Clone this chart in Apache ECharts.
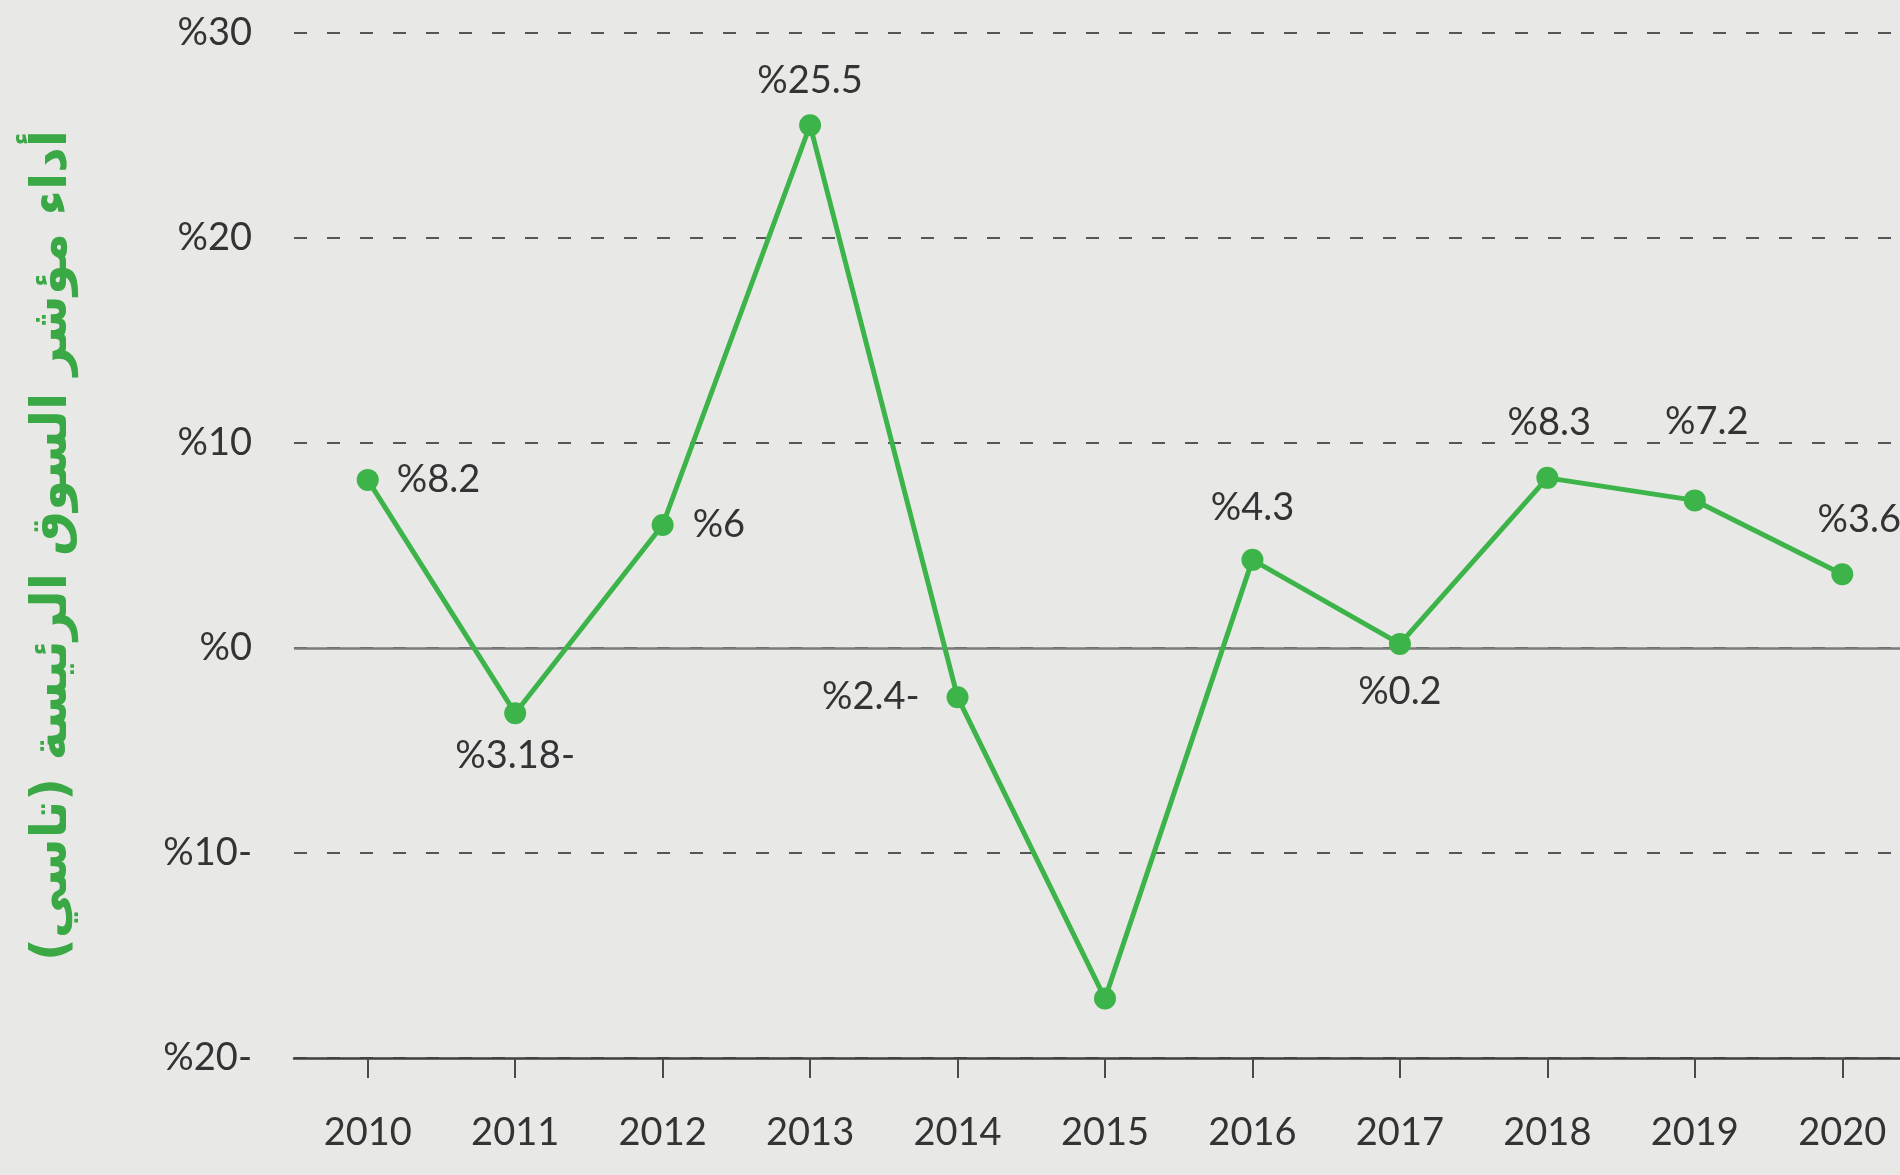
<!DOCTYPE html>
<html>
<head>
<meta charset="utf-8">
<script src="https://cdn.jsdelivr.net/npm/echarts@6/dist/echarts.min.js"></script>
<style>
html,body{margin:0;padding:0;background:#e8e8e6;}
#c{width:1900px;height:1175px;}
</style>
</head>
<body>
<div id="c"></div>
<script>
const years = ['2010','2011','2012','2013','2014','2015','2016','2017','2018','2019','2020'];
const tasiReturn = [8.2, -3.18, 6, 25.5, -2.4, -17.1, 4.3, 0.2, 8.3, 7.2, 3.6];
const showLabel = [true, true, true, true, true, false, true, true, true, true, true];
const yTicks = [-20, -10, 0, 10, 20, 30];
const yAxisTitle = 'أداء مؤشر السوق الرئيسة (تاسي)';

// label placement (style, not data)
const labelPlace = [
  {position:'right', distance:18, offset:[0,0]},
  {position:'bottom', distance:13, offset:[0,0]},
  {position:'right', distance:19, offset:[0,0]},
  {position:'top', distance:15, offset:[0,0]},
  {position:'left', distance:27, offset:[0,0]},
  {position:'top', distance:10, offset:[0,0]},
  {position:'top', distance:22, offset:[0,0]},
  {position:'bottom', distance:18, offset:[0,0]},
  {position:'top', distance:25, offset:[2,0]},
  {position:'top', distance:49, offset:[12,0]},
  {position:'top', distance:24, offset:[17,0]}
];

function pct(v){ return v < 0 ? '%' + (-v) + '-' : '%' + v; }

const FONT = 'Lato';
const green = '#3db449';

const seriesData = tasiReturn.map((v,i)=>({
  value: v,
  label: {
    show: showLabel[i],
    position: labelPlace[i].position,
    distance: labelPlace[i].distance,
    offset: labelPlace[i].offset
  }
}));

const chart = echarts.init(document.getElementById('c'), null, {renderer:'canvas'});
chart.setOption({
  backgroundColor: '#e8e8e6',
  animation: false,
  grid: {left: 294, width: 1622, top: 33, bottom: 117, containLabel: false, outerBoundsMode: 'none'},
  xAxis: {
    type: 'category',
    data: years,
    boundaryGap: true,
    axisLine: {show: true, onZero: false, lineStyle: {color: '#3f3f3f', width: 2.5}},
    axisTick: {show: true, alignWithLabel: true, length: 20, lineStyle: {color: '#4a4a4a', width: 2}},
    axisLabel: {color: '#333', fontFamily: FONT, fontSize: 38, margin: 56}
  },
  yAxis: {
    type: 'value',
    min: yTicks[0],
    max: yTicks[yTicks.length-1],
    interval: 10,
    name: yAxisTitle,
    nameLocation: 'middle',
    nameRotate: 90,
    nameGap: 216,
    nameTextStyle: {color: '#3aa845', fontFamily: 'DejaVu Sans', fontSize: 50, fontWeight: 'bold'},
    axisLine: {show: false},
    axisTick: {show: false},
    axisLabel: {color: '#333', fontFamily: FONT, fontSize: 38, margin: 42, formatter: pct},
    splitLine: {show: true, lineStyle: {color: '#555', width: 2, type: [13, 20]}}
  },
  series: [{
    type: 'line',
    data: seriesData,
    symbol: 'circle',
    symbolSize: 22,
    lineStyle: {color: green, width: 5},
    itemStyle: {color: green},
    z: 5,
    label: {
      show: true,
      color: '#333',
      fontFamily: FONT,
      fontSize: 38,
      formatter: p => pct(p.value)
    },
    markLine: {
      silent: true,
      symbol: 'none',
      label: {show: false},
      lineStyle: {color: '#7a7a7a', width: 2.5, type: 'solid'},
      data: [{yAxis: 0}],
      z: 1
    }
  }]
});
</script>
</body>
</html>
